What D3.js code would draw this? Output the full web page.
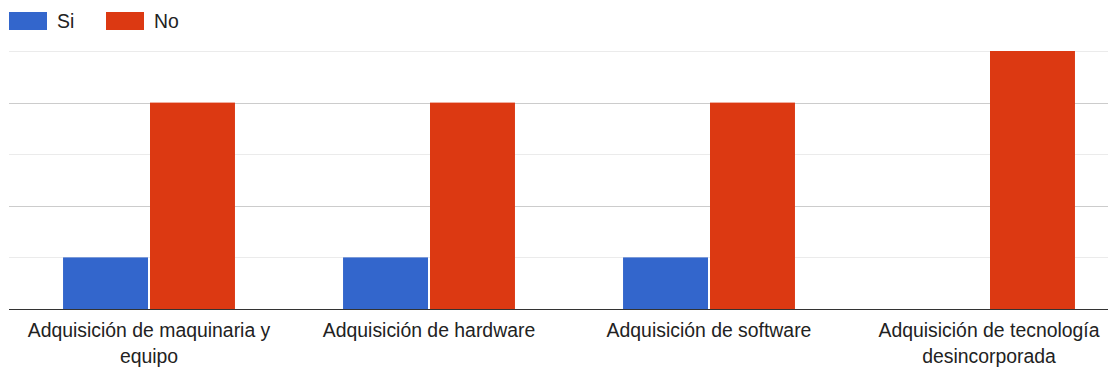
<!DOCTYPE html>
<html><head><meta charset="utf-8">
<script src="https://cdn.jsdelivr.net/npm/d3@7"></script>
<style>body{margin:0;background:#fff;overflow:hidden}svg{display:block}</style>
</head><body>
<svg id="c" width="1108" height="370"></svg>
<script>
const categories = [["Adquisición de maquinaria y","equipo"],["Adquisición de hardware"],["Adquisición de software"],["Adquisición de tecnología","desincorporada"]];
const seriesNames = ["Si","No"];
const siValues = [1,1,1,0];
const noValues = [4,4,4,5];
const yTicks = [0,1,2,3,4,5];
const colors = ["#3366cc","#dc3912"];

const svg = d3.select("#c");
const font = "Arial, 'Liberation Sans', sans-serif";
const fs = 19.4;
const catKeys = categories.map(c=>c.join(" "));
const x0 = d3.scaleBand().domain(catKeys).range([9,1129]).paddingInner(0.386).paddingOuter(0.193);
const x1 = d3.scaleBand().domain(seriesNames).range([0,x0.bandwidth()]).paddingInner(0.023);
const y = d3.scaleLinear().domain([0,5]).range([309,51]);

// gridlines
svg.append("g").selectAll("line").data(yTicks.filter(t=>t>0)).join("line")
  .attr("x1",9).attr("x2",1108).attr("y1",d=>Math.round(y(d))+0.5).attr("y2",d=>Math.round(y(d))+0.5)
  .attr("stroke",d=>d%2===0?"#cccccc":"#ebebeb").attr("stroke-width",1);

const data = catKeys.map((k,i)=>({k, vals:[siValues[i],noValues[i]]}));
const g = svg.append("g").selectAll("g").data(data).join("g").attr("transform",d=>`translate(${x0(d.k)},0)`);
g.selectAll("rect").data(d=>d.vals.map((v,j)=>({s:seriesNames[j],v,j})).filter(e=>e.v>0)).join("rect")
  .attr("x",d=>x1(d.s)).attr("width",x1.bandwidth())
  .attr("y",d=>y(d.v)).attr("height",d=>y(0)-y(d.v)).attr("fill",d=>colors[d.j]);

// baseline
svg.append("line").attr("x1",9).attr("x2",1108).attr("y1",309.5).attr("y2",309.5).attr("stroke","#333").attr("stroke-width",1);

// x labels
const xl = svg.append("g").selectAll("text").data(categories).join("text")
  .attr("x",(d,i)=>x0(catKeys[i])+x0.bandwidth()/2).attr("y",337)
  .attr("text-anchor","middle").attr("font-family",font).attr("font-size",fs).attr("fill","#222");
xl.selectAll("tspan").data(d=>d).join("tspan")
  .attr("x",function(){return this.parentNode.getAttribute("x");})
  .attr("dy",(d,i)=>i===0?0:26).text(d=>d);

// legend
const leg = svg.append("g");
const legX = [9,106];
seriesNames.forEach((s,i)=>{
  leg.append("rect").attr("x",legX[i]).attr("y",12).attr("width",38).attr("height",18).attr("fill",colors[i]);
  leg.append("text").attr("x",legX[i]+48).attr("y",28).attr("font-family",font).attr("font-size",fs).attr("fill","#222").text(s);
});
</script>
</body></html>
